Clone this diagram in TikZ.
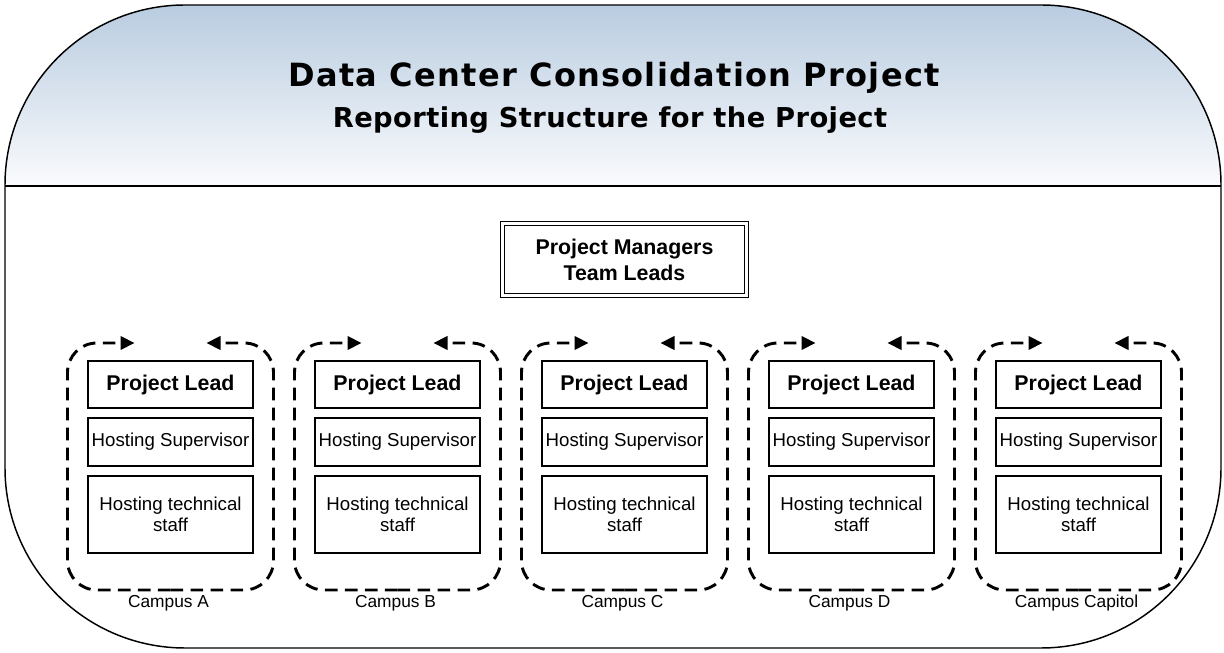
\documentclass[tikz,border=0pt]{standalone}
\usepackage{fontspec}
\setmainfont{Liberation Sans}
\newfontfamily\headfont{DejaVu Sans}
\newfontfamily\titlefont{DejaVu Sans}[LetterSpace=4]
\newfontfamily\subtitlefont{DejaVu Sans}[LetterSpace=1.5]
\usetikzlibrary{arrows.meta}
\definecolor{hdrtop}{RGB}{185,204,224}
\definecolor{hdrbot}{RGB}{250,251,253}

\begin{document}
\begin{tikzpicture}[x=0.75pt,y=0.75pt,
  frame/.style={line width=1.1pt, rounded corners=135pt},
  unitbox/.style={draw, line width=0.9pt, minimum width=123.75pt, inner sep=0pt, align=center},
  leadbox/.style={unitbox, minimum height=35.25pt, font=\fontsize{16}{19}\selectfont\bfseries},
  supbox/.style={unitbox, minimum height=36pt, font=\fontsize{14}{16}\selectfont},
  staffbox/.style={unitbox, minimum height=57.75pt, font=\fontsize{14}{15.5}\selectfont},
  pmbox/.style={draw, double, line width=0.75pt, double distance=1.8pt,
    minimum width=183pt, minimum height=54pt, inner sep=0pt, align=center,
    font=\fontsize{16}{19.5}\selectfont\bfseries},
  campusline/.style={line width=2.2pt, dash pattern=on 9.5pt off 5.5pt, rounded corners=22pt,
    -{Triangle[length=10.5pt,width=10pt]}},
  campuslabel/.style={font=\fontsize{13}{15}\selectfont},
  titletext/.style={font=\titlefont\bfseries\fontsize{24}{28}\selectfont, anchor=base},
  subtext/.style={font=\subtitlefont\bfseries\fontsize{20.5}{24}\selectfont, anchor=base}]
\useasboundingbox (0,0) rectangle (1224,653);

% header band with vertical gradient, clipped to the rounded frame
\begin{scope}
  \clip[rounded corners=135pt] (5,5) rectangle (1221,648);
  \shade[top color=hdrtop, bottom color=hdrbot] (5,467) rectangle (1221,648);
\end{scope}
\draw[frame] (5,5) rectangle (1221,648);
\coordinate (divl) at (5,467);
\coordinate (divr) at (1221,467);
\draw[line width=1.1pt] (divl) -- (divr);

\node[titletext] (title) at (614,566) {Data Center Consolidation Project};
\node[subtext] (subtitle) at (610,525) {Reporting Structure for the Project};

\node[pmbox] (pm) at (624.5,393.5) {Project Managers\\Team Leads};

% one column per campus
\foreach \cx/\id/\name in {170.5/a/Campus A, 397.5/b/Campus B, 624.5/c/Campus C,
                           851.5/d/Campus D, 1078.5/e/Campus Capitol}{
  \node[leadbox] (lead-\id) at (\cx,268.5) {Project Lead};
  \node[supbox] (sup-\id) at (\cx,211) {Hosting Supervisor};
  \node[staffbox] (staff-\id) at (\cx,138.5) {Hosting technical\\staff};
  \coordinate (bot-\id) at (\cx,63);
  \coordinate (tipl-\id) at (\cx-36,310);
  \coordinate (tipr-\id) at (\cx+36,310);
  \draw[campusline] (bot-\id) -- (\cx-103,63) -- (\cx-103,310) -- (tipl-\id);
  \draw[campusline] (bot-\id) -- (\cx+103,63) -- (\cx+103,310) -- (tipr-\id);
  \node[campuslabel] (label-\id) at (\cx-2,50) {\name};
}
\end{tikzpicture}
\end{document}
